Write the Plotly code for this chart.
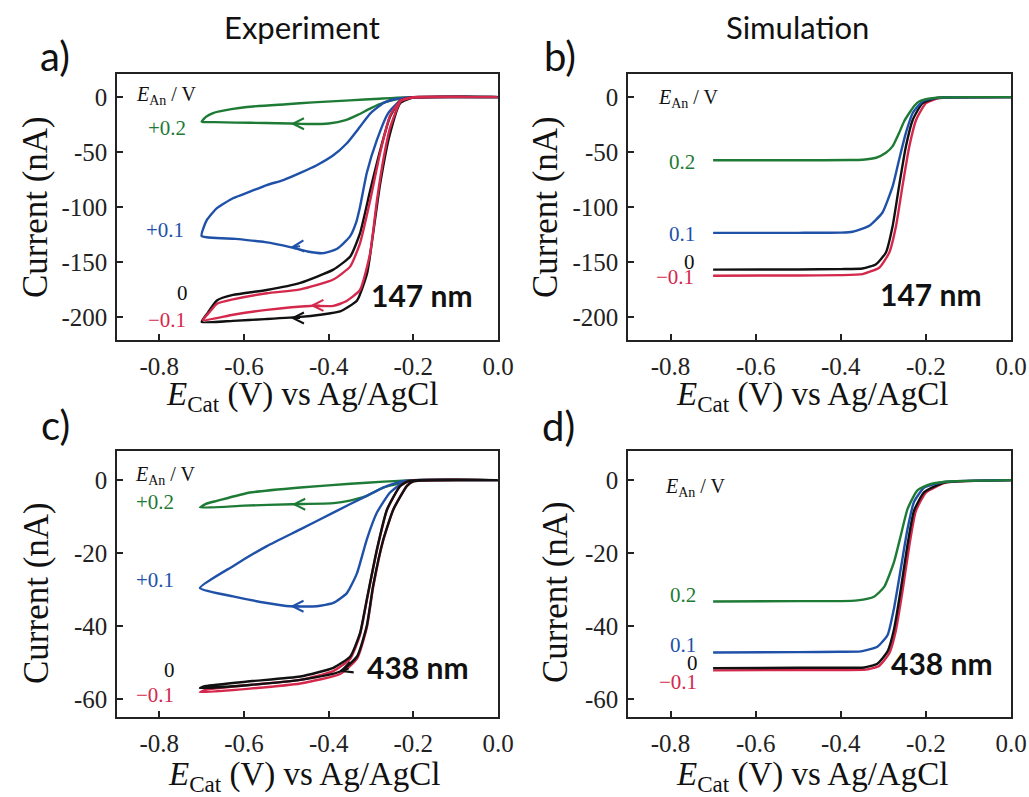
import plotly.graph_objects as go

W, H = 1029, 797
GREEN = "#1e7b36"
BLUE = "#2051a8"
RED = "#d4284c"
BLACK = "#111111"
SERIF = "Liberation Serif"
SANS = "Lato"

# ---------------- Panel a: experiment, 147 nm (CV loops) ----------------
a_green_x = [0.0, -0.15, -0.21, -0.24, -0.27, -0.30, -0.33, -0.36, -0.40, -0.45, -0.49, -0.55, -0.62, -0.67, -0.70,
             -0.69, -0.673, -0.63, -0.593, -0.50, -0.437, -0.35, -0.28, -0.22, -0.15, 0.0]
a_green_y = [0, 0, -0.5, -2, -5, -10, -16, -21, -24, -24.5, -24, -23.6, -23.2, -22.8, -22.4,
             -18, -14.5, -11, -9, -6.5, -4.8, -3, -1.5, -0.3, 0, 0]

a_blue_x = [0.0, -0.20, -0.23, -0.26, -0.286, -0.31, -0.326, -0.335, -0.35, -0.38, -0.413, -0.45, -0.491, -0.55, -0.62, -0.70,
            -0.688, -0.664, -0.626, -0.586, -0.546, -0.507, -0.467, -0.428, -0.389, -0.357, -0.326, -0.302, -0.271, -0.24, -0.20, 0.0]
a_blue_y = [0, -0.5, -3, -15, -39, -69, -100, -114, -127, -138, -142, -140.5, -136.5, -132, -129, -126.4,
            -112, -101, -92, -86, -80, -75.5, -69, -62, -53, -42, -27, -15, -5.5, -1.5, 0, 0]

a_black_x = [0.0, -0.20, -0.231, -0.255, -0.278, -0.295, -0.309, -0.333, -0.373, -0.42, -0.467, -0.55, -0.626, -0.70,
             -0.687, -0.664, -0.626, -0.546, -0.467, -0.389, -0.349, -0.326, -0.302, -0.278, -0.255, -0.23, -0.20, 0.0]
a_black_y = [0, -0.5, -5.5, -33, -78, -124, -160, -185, -195, -198, -200, -202, -203.6, -204.5,
             -197, -185, -180, -175.5, -169, -157, -145, -124, -85, -48, -18, -3, 0, 0]

a_red_x = [0.0, -0.20, -0.23, -0.255, -0.27, -0.286, -0.302, -0.326, -0.36, -0.389, -0.444, -0.546, -0.626, -0.697,
           -0.68, -0.664, -0.626, -0.546, -0.467, -0.389, -0.349, -0.326, -0.302, -0.278, -0.255, -0.23, -0.20, 0.0]
a_red_y = [0, -0.5, -4, -28, -55, -94, -142, -175.5, -186, -190, -190, -193.6, -198, -203,
           -195, -188, -184, -178.5, -175, -166, -154, -133, -94, -50, -17, -3, 0, 0]

# ---------------- Panel b: simulation, 147 nm ----------------
b_green_x = [-0.70, -0.50, -0.38, -0.349, -0.317, -0.294, -0.278, -0.263, -0.251, -0.239, -0.227, -0.216, -0.20, -0.185, -0.161, -0.10, 0.0]
b_green_y = [-57.5, -57.5, -57.3, -57.0, -55.2, -50.7, -44.6, -32.6, -22, -14.5, -7.9, -4, -1.9, -1, -0.4, 0, 0]

b_blue_x = [-0.70, -0.50, -0.40, -0.372, -0.333, -0.302, -0.278, -0.263, -0.247, -0.231, -0.208, -0.177, -0.138, 0.0]
b_blue_y = [-123.5, -123.5, -123.3, -122.5, -117, -105, -81, -57, -32.6, -14.5, -4, -1, -0.2, 0]

b_black_x = [-0.70, -0.50, -0.40, -0.349, -0.317, -0.294, -0.278, -0.263, -0.247, -0.231, -0.208, -0.177, -0.14, 0.0]
b_black_y = [-157, -156.8, -156.5, -156, -152, -141.4, -117, -81, -45, -20.8, -5.5, -1, -0.2, 0]

b_red_x = [-0.70, -0.50, -0.40, -0.349, -0.309, -0.286, -0.27, -0.255, -0.239, -0.223, -0.20, -0.17, -0.14, 0.0]
b_red_y = [-162.5, -162.3, -162, -161, -155, -141.4, -117, -81, -45, -20.8, -5.5, -1, -0.2, 0]

# ---------------- Panel c: experiment, 438 nm (CV loops) ----------------
c_green_x = [0.0, -0.20, -0.23, -0.27, -0.31, -0.35, -0.388, -0.487, -0.60, -0.704,
             -0.69, -0.664, -0.586, -0.467, -0.349, -0.27, -0.20, 0.0]
c_green_y = [0, -0.1, -0.8, -2, -4.3, -5.6, -6.3, -6.6, -7.0, -7.5,
             -6.5, -5.7, -3.4, -2, -1, -0.4, 0, 0]

c_blue_x = [0.0, -0.20, -0.223, -0.255, -0.286, -0.31, -0.333, -0.357, -0.389, -0.428, -0.491, -0.546, -0.626, -0.704,
            -0.626, -0.546, -0.467, -0.389, -0.31, -0.27, -0.23, -0.20, 0.0]
c_blue_y = [0, 0, -0.6, -3.4, -8.9, -16.3, -25.5, -31, -33.7, -34.6, -34.6, -33.7, -31.9, -29.6,
            -23.6, -18.1, -13.5, -8.9, -4.3, -2, -0.4, 0, 0]

c_black_x = [0.0, -0.20, -0.215, -0.247, -0.271, -0.295, -0.31, -0.333, -0.373, -0.467, -0.586, -0.704,
             -0.69, -0.586, -0.467, -0.389, -0.349, -0.326, -0.31, -0.286, -0.262, -0.231, -0.21, 0.0]
c_black_y = [0, -0.3, -1.6, -8, -16.3, -29, -40, -48.4, -52.5, -54.8, -56.2, -57.1,
             -56.5, -55.2, -53.9, -51.5, -48.4, -42, -32.8, -19, -8, -1.6, -0.2, 0]

c_red_x = [0.0, -0.20, -0.215, -0.247, -0.271, -0.295, -0.31, -0.333, -0.373, -0.467, -0.586, -0.704,
           -0.69, -0.586, -0.467, -0.389, -0.349, -0.326, -0.31, -0.286, -0.262, -0.231, -0.21, 0.0]
c_red_y = [0, -0.3, -1.5, -8, -16.5, -29.5, -40.5, -49, -53.2, -55.8, -57.2, -58.2,
           -57.5, -56.2, -54.8, -52.4, -49, -42.5, -33, -19.2, -8.1, -1.6, -0.2, 0]

# ---------------- Panel d: simulation, 438 nm ----------------
d_green_x = [-0.70, -0.50, -0.40, -0.361, -0.322, -0.298, -0.275, -0.259, -0.243, -0.22, -0.188, -0.134, 0.0]
d_green_y = [-33.3, -33.2, -33.2, -33.0, -32.0, -29.3, -22.5, -15.2, -7.9, -2.8, -1, -0.3, 0]

d_blue_x = [-0.70, -0.50, -0.40, -0.353, -0.314, -0.29, -0.275, -0.259, -0.243, -0.228, -0.204, -0.157, 0.0]
d_blue_y = [-47.3, -47.2, -47.1, -47.0, -45.7, -42.5, -35.2, -24.3, -13.3, -6, -2, -0.5, 0]

d_black_x = [-0.70, -0.50, -0.40, -0.345, -0.314, -0.29, -0.275, -0.259, -0.243, -0.228, -0.204, -0.157, 0.0]
d_black_y = [-51.6, -51.5, -51.5, -51.4, -50.4, -47, -41, -30, -17.6, -8.4, -3.3, -0.7, 0]

d_red_x = [-0.70, -0.50, -0.40, -0.341, -0.31, -0.286, -0.271, -0.255, -0.239, -0.224, -0.20, -0.153, 0.0]
d_red_y = [-52.2, -52.1, -52.1, -52.0, -51.0, -47.5, -41.5, -30.5, -18, -8.6, -3.4, -0.7, 0]

# ---------------- Tick labels ----------------
x_tickvals = [-0.8, -0.6, -0.4, -0.2, 0.0]
x_ticktext = ["-0.8", "-0.6", "-0.4", "-0.2", "0.0"]
y_top_tickvals = [0, -50, -100, -150, -200]
y_top_ticktext = ["0", "-50", "-100", "-150", "-200"]
y_bot_tickvals = [0, -20, -40, -60]
y_bot_ticktext = ["0", "-20", "-40", "-60"]

fig = go.Figure()


def add(x, y, color, ax_id):
    fig.add_trace(go.Scatter(
        x=x, y=y, mode="lines",
        line=dict(color=color, width=2.4, shape="spline", smoothing=0.5),
        xaxis="x" + ax_id, yaxis="y" + ax_id, showlegend=False, hoverinfo="skip"))


add(a_green_x, a_green_y, GREEN, "")
add(a_blue_x, a_blue_y, BLUE, "")
add(a_black_x, a_black_y, BLACK, "")
add(a_red_x, a_red_y, RED, "")

add(b_red_x, b_red_y, RED, "2")
add(b_black_x, b_black_y, BLACK, "2")
add(b_blue_x, b_blue_y, BLUE, "2")
add(b_green_x, b_green_y, GREEN, "2")

add(c_green_x, c_green_y, GREEN, "3")
add(c_blue_x, c_blue_y, BLUE, "3")
add(c_red_x, c_red_y, RED, "3")
add(c_black_x, c_black_y, BLACK, "3")

add(d_red_x, d_red_y, RED, "4")
add(d_black_x, d_black_y, BLACK, "4")
add(d_blue_x, d_blue_y, BLUE, "4")
add(d_green_x, d_green_y, GREEN, "4")


def px(x):
    return x / W


def py(y):
    return 1 - y / H


def axis(dom, rng, tv, tt, anchor):
    return dict(domain=dom, range=rng, tickvals=tv, ticktext=tt, ticks="inside", ticklen=6,
                tickwidth=1.5, tickcolor="#222", showline=True, linecolor="#222", linewidth=1.5,
                mirror=True, showgrid=False, zeroline=False, anchor=anchor, automargin=False,
                ticklabelstandoff=3,
                tickfont=dict(family=SERIF, size=25, color="#222"))


xa = [px(117), px(498)]
xb = [px(628), px(1011)]
ytop = [py(340), py(74)]
ybot = [py(717), py(451)]
xr = [-0.9, 0.0]

fig.update_layout(
    width=W, height=H, margin=dict(l=0, r=0, t=0, b=0),
    paper_bgcolor="white", plot_bgcolor="white",
    xaxis=axis(xa, xr, x_tickvals, x_ticktext, "y"),
    yaxis=axis(ytop, [-221, 21], y_top_tickvals, y_top_ticktext, "x"),
    xaxis2=axis(xb, xr, x_tickvals, x_ticktext, "y2"),
    yaxis2=axis(ytop, [-221, 21], y_top_tickvals, y_top_ticktext, "x2"),
    xaxis3=axis(xa, xr, x_tickvals, x_ticktext, "y3"),
    yaxis3=axis(ybot, [-65, 8], y_bot_tickvals, y_bot_ticktext, "x3"),
    xaxis4=axis(xb, xr, x_tickvals, x_ticktext, "y4"),
    yaxis4=axis(ybot, [-65, 8], y_bot_tickvals, y_bot_ticktext, "x4"),
)

ann = []


def paper_text(text, x, y, size, family, angle=0, color="#111"):
    ann.append(dict(text=text, x=px(x), y=py(y), xref="paper", yref="paper", showarrow=False,
                    xanchor="center", yanchor="middle", textangle=angle,
                    font=dict(family=family, size=size, color=color)))


# column titles and panel letters
paper_text("Experiment", 302, 27, 31, SANS)
paper_text("Simulation", 797, 27, 31, SANS)
paper_text("a)", 55, 56, 40, SANS)
paper_text("b)", 560, 56, 40, SANS)
paper_text("c)", 55, 425, 40, SANS)
paper_text("d)", 558, 426, 40, SANS)

# axis titles
xtitle = "<i>E</i><sub>Cat</sub> (V) vs Ag/AgCl"
paper_text(xtitle, 302, 396, 33, SERIF)
paper_text(xtitle, 812, 396, 33, SERIF)
paper_text(xtitle, 304, 776, 33, SERIF)
paper_text(xtitle, 812, 776, 33, SERIF)
paper_text("Current (nA)", 36, 207, 35, SERIF, -90)
paper_text("Current (nA)", 546, 207, 35, SERIF, -90)
paper_text("Current (nA)", 36, 593, 35, SERIF, -90)
paper_text("Current (nA)", 555, 592, 35, SERIF, -90)


def data_text(text, x, y, ref, size, family, color, anchor="center", bold=False):
    ann.append(dict(text=("<b>%s</b>" % text) if bold else text, x=x, y=y, xref="x" + ref, yref="y" + ref,
                    showarrow=False, xanchor=anchor, yanchor="middle",
                    font=dict(family=family, size=size, color=color)))


ean = "<i>E</i><sub>An</sub> / V"
# panel a
data_text(ean, -0.86, 1, "", 20, SERIF, BLACK, anchor="left")
data_text("+0.2", -0.782, -28, "", 21, SERIF, GREEN)
data_text("+0.1", -0.787, -121, "", 21, SERIF, BLUE)
data_text("0", -0.746, -178, "", 21, SERIF, BLACK)
data_text("\u22120.1", -0.782, -203, "", 21, SERIF, RED)
data_text("147 nm", -0.179, -180, "", 30, SANS, BLACK, bold=True)
# panel b
data_text(ean, -0.835, -1, "2", 20, SERIF, BLACK, anchor="left")
data_text("0.2", -0.774, -59.4, "2", 21, SERIF, GREEN)
data_text("0.1", -0.774, -124.5, "2", 21, SERIF, BLUE)
data_text("0", -0.755, -150, "2", 21, SERIF, BLACK)
data_text("\u22120.1", -0.79, -164, "2", 21, SERIF, RED)
data_text("147 nm", -0.188, -178.7, "2", 30, SANS, BLACK, bold=True)
# panel c
data_text(ean, -0.862, 1.2, "3", 20, SERIF, BLACK, anchor="left")
data_text("+0.2", -0.81, -6.1, "3", 21, SERIF, GREEN)
data_text("+0.1", -0.81, -27.3, "3", 21, SERIF, BLUE)
data_text("0", -0.775, -52.1, "3", 21, SERIF, BLACK)
data_text("\u22120.1", -0.81, -59, "3", 21, SERIF, RED)
data_text("438 nm", -0.188, -51.2, "3", 30, SANS, BLACK, bold=True)
# panel d
data_text(ean, -0.817, -1.9, "4", 20, SERIF, BLACK, anchor="left")
data_text("0.2", -0.77, -31.5, "4", 21, SERIF, GREEN)
data_text("0.1", -0.77, -45.2, "4", 21, SERIF, BLUE)
data_text("0", -0.749, -50.2, "4", 21, SERIF, BLACK)
data_text("\u22120.1", -0.782, -55.5, "4", 21, SERIF, RED)
data_text("438 nm", -0.161, -50.3, "4", 30, SANS, BLACK, bold=True)


def arrow(x, y, ref, color, dy=0):
    ann.append(dict(text="", x=x, y=y, xref="x" + ref, yref="y" + ref, showarrow=True,
                    ax=11, ay=dy, arrowhead=5, arrowsize=1.2, arrowwidth=1.8, arrowcolor=color,
                    standoff=0))


arrow(-0.49, -24.2, "", GREEN)
arrow(-0.49, -136.5, "", BLUE, dy=-1)
arrow(-0.49, -201, "", BLACK)
arrow(-0.444, -189.5, "", RED)
arrow(-0.487, -6.6, "3", GREEN)
arrow(-0.491, -34.6, "3", BLUE)
arrow(-0.375, -52.6, "3", BLACK, dy=-4)

fig.update_layout(annotations=ann)
fig.write_html("out.html", config={"displayModeBar": False})
